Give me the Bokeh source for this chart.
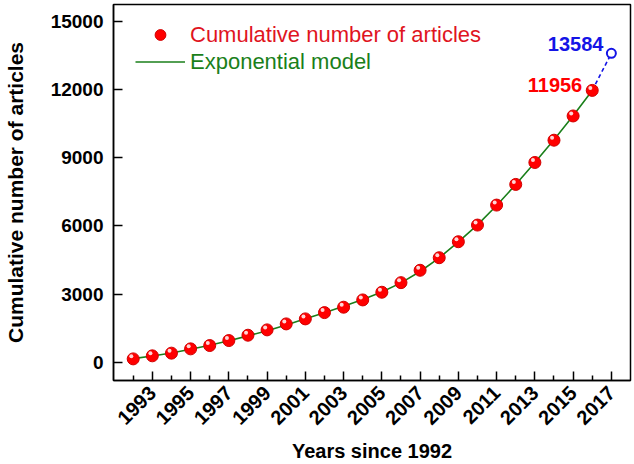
import math
from bokeh.plotting import figure
from bokeh.models import (ColumnDataSource, Range1d, FixedTicker, Legend, LegendItem, Label)
from bokeh.transform import dodge
from bokeh.embed import file_html
from bokeh.resources import INLINE

# ---- data ----
years = [1992, 1993, 1994, 1995, 1996, 1997, 1998, 1999, 2000, 2001, 2002, 2003,
         2004, 2005, 2006, 2007, 2008, 2009, 2010, 2011, 2012, 2013, 2014, 2015, 2016]
articles = [160, 294, 412, 600, 746, 965, 1200, 1434, 1697, 1917, 2193, 2430,
            2750, 3088, 3509, 4053, 4605, 5307, 6039, 6917, 7825, 8789, 9768, 10833, 11956]
model = [170, 290, 420, 580, 760, 955, 1170, 1400, 1650, 1920, 2190, 2470,
         2770, 3100, 3500, 4000, 4600, 5300, 6050, 6900, 7820, 8790, 9790, 10840, 11956]
proj_years = [2016, 2017]
proj_values = [11956, 13584]
x_major_ticks = [1993, 1995, 1997, 1999, 2001, 2003, 2005, 2007, 2009, 2011, 2013, 2015, 2017]
x_minor_ticks = [1992, 1994, 1996, 1998, 2000, 2002, 2004, 2006, 2008, 2010, 2012, 2014, 2016]
y_ticks = [0, 3000, 6000, 9000, 12000, 15000]

FONT = "Liberation Sans"
RED = "#ff0000"
GREEN = "#1a7f1a"
BLUE = "#1414e6"

p = figure(width=634, height=464, output_backend="svg", toolbar_location=None,
           x_range=Range1d(1990.97, 2018.0), y_range=Range1d(-790, 15730),
           min_border_left=111, min_border_right=4, min_border_top=4, min_border_bottom=83)
p.grid.visible = False
p.outline_line_color = "black"
p.outline_line_width = 1.5
p.background_fill_color = "white"
p.border_fill_color = "white"

src = ColumnDataSource(dict(x=years, y=articles))
msrc = ColumnDataSource(dict(x=years, y=model))
psrc = ColumnDataSource(dict(x=proj_years, y=proj_values))
esrc = ColumnDataSource(dict(x=proj_years[-1:], y=proj_values[-1:]))

line_r = p.line("x", "y", source=msrc, line_color=GREEN, line_width=1.6)
dash_r = p.line("x", "y", source=psrc, line_color=BLUE, line_width=1.6, line_dash="4 3")
pts = p.scatter("x", "y", source=src, size=12, fill_color=RED, line_color="#d00000", line_width=1)
p.scatter(dodge("x", -0.1, range=p.x_range), dodge("y", 110, range=p.y_range), source=src,
          size=4, fill_color="#ffd6d6", line_color=None)
p.scatter("x", "y", source=esrc, size=9, fill_color="white", line_color=BLUE, line_width=2)

# annotations
p.add_layout(Label(x=years[-1], y=articles[-1], text=str(articles[-1]), x_offset=-10, y_offset=5,
                   text_align="right", text_baseline="middle", text_font=FONT,
                   text_font_size="20px", text_font_style="bold", text_color=RED))
p.add_layout(Label(x=proj_years[-1], y=proj_values[-1], text=str(proj_values[-1]), x_offset=-8,
                   y_offset=9, text_align="right", text_baseline="middle", text_font=FONT,
                   text_font_size="20px", text_font_style="bold", text_color=BLUE))

# axes
xa = p.xaxis[0]
xa.ticker = FixedTicker(ticks=x_major_ticks, minor_ticks=x_minor_ticks)
xa.major_label_orientation = math.pi / 4
xa.axis_label = "Years since 1992"
ya = p.yaxis[0]
ya.ticker = FixedTicker(ticks=y_ticks)
ya.axis_label = "Cumulative number of articles"
for ax in (xa, ya):
    ax.axis_line_width = 1.5
    ax.axis_line_color = "black"
    ax.major_tick_in = 9
    ax.major_tick_out = 0
    ax.major_tick_line_width = 1.5
    ax.minor_tick_in = 5
    ax.minor_tick_out = 0
    ax.minor_tick_line_width = 1.5
    ax.major_label_text_font = FONT
    ax.major_label_text_font_style = "bold"
    ax.major_label_text_color = "black"
    ax.axis_label_text_font = FONT
    ax.axis_label_text_font_style = "bold"
    ax.axis_label_text_color = "black"
xa.major_label_text_font_size = "20px"
xa.major_label_standoff = 9
xa.axis_label_standoff = 6
xa.axis_label_text_font_size = "20px"
ya.major_label_text_font_size = "19px"
ya.minor_tick_line_color = None
ya.major_label_standoff = 10
ya.axis_label_standoff = 21
ya.axis_label_text_font_size = "21px"

# legends (two, to give each entry its own text colour)
def make_legend(label, rend, color, loc):
    lg = Legend(items=[LegendItem(label=label, renderers=[rend])], location=loc,
                glyph_width=50, glyph_height=27, label_height=27, label_standoff=5,
                padding=0, margin=0, spacing=0, border_line_color=None,
                background_fill_alpha=0, label_text_font=FONT, label_text_font_size="22px",
                label_text_color=color)
    p.add_layout(lg, "center")

make_legend("Cumulative number of articles", pts, "#e0141e", (22, 332))
make_legend("Exponential model", line_r, GREEN, (22, 305))

open("out.html", "w").write(file_html(p, INLINE))
